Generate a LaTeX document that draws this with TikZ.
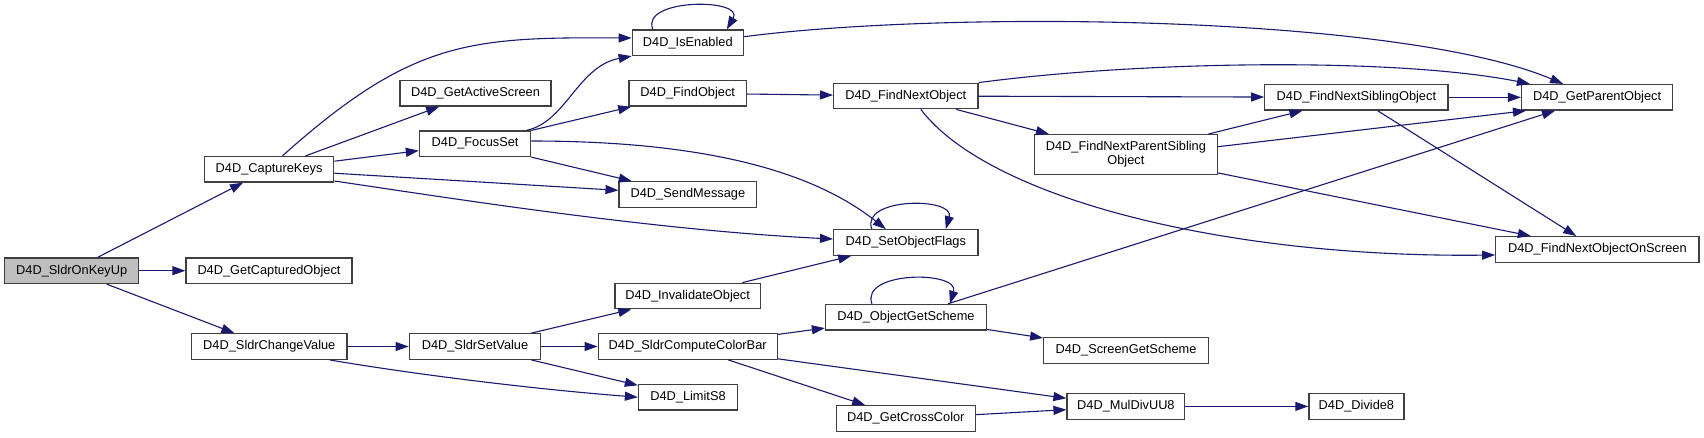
\documentclass[tikz,border=0pt]{standalone}
\usepackage{fontspec}
\setmainfont{Liberation Sans}
\usetikzlibrary{arrows.meta, calc}
\definecolor{callBlue}{HTML}{191970}
\definecolor{boxEdge}{HTML}{404040}
\definecolor{rootGray}{HTML}{BFBFBF}
\tikzset{
  funcbox/.style={draw=boxEdge, fill=white, line width=1.3pt, inner sep=0pt, minimum height=25.5pt, align=center, font=\fontsize{12.8}{14}\selectfont},
  rootbox/.style={funcbox, fill=rootGray},
  callarr/.style={-{Triangle[length=13pt, width=9pt]}, callBlue, line width=1.1pt},
}

\begin{document}
\begin{tikzpicture}[x=1pt, y=-1pt]
  \useasboundingbox (0,0) rectangle (1704,437);
  \fill[white] (0,0) rectangle (1704,437);
  % column 1
  \node[rootbox, minimum width=134pt] (onkeyup) at (71.7,270.7) {D4D\_SldrOnKeyUp};
  % column 2
  \node[funcbox, minimum width=129.2pt] (capkeys) at (269.1,169.3) {D4D\_CaptureKeys};
  \node[funcbox, minimum width=166pt] (captured) at (269,270.7) {D4D\_GetCapturedObject};
  \node[funcbox, minimum width=155.3pt] (chgvalue) at (269.3,346.5) {D4D\_SldrChangeValue};
  % column 3
  \node[funcbox, minimum width=151pt] (activescr) at (475.5,93.3) {D4D\_GetActiveScreen};
  \node[funcbox, minimum width=111.3pt] (focusset) at (475.1,143.7) {D4D\_FocusSet};
  \node[funcbox, minimum width=131.5pt] (setvalue) at (475,346.5) {D4D\_SldrSetValue};
  % column 4
  \node[funcbox, minimum width=111pt] (isenabled) at (687.8,42.7) {D4D\_IsEnabled};
  \node[funcbox, minimum width=117.5pt] (findobj) at (687.7,93.3) {D4D\_FindObject};
  \node[funcbox, minimum width=137.6pt] (sendmsg) at (687.9,194.5) {D4D\_SendMessage};
  \node[funcbox, minimum width=145.5pt] (invalidate) at (687.7,296) {D4D\_InvalidateObject};
  \node[funcbox, minimum width=179pt] (colorbar) at (687.7,346.5) {D4D\_SldrComputeColorBar};
  \node[funcbox, minimum width=99pt] (limits8) at (688,397.2) {D4D\_LimitS8};
  % column 5
  \node[funcbox, minimum width=144.3pt] (findnext) at (905.8,96) {D4D\_FindNextObject};
  \node[funcbox, minimum width=144.3pt] (setflags) at (905.8,242.5) {D4D\_SetObjectFlags};
  \node[funcbox, minimum width=160.8pt] (objscheme) at (905.9,317.2) {D4D\_ObjectGetScheme};
  \node[funcbox, minimum width=139pt] (crosscolor) at (905.8,418.5) {D4D\_GetCrossColor};
  % column 6
  \node[funcbox, minimum width=182.6pt, minimum height=39.6pt] (parentsib) at (1125.9,154.5) {D4D\_FindNextParentSibling\\Object};
  \node[funcbox, minimum width=164.5pt] (scrscheme) at (1126,350.5) {D4D\_ScreenGetScheme};
  \node[funcbox, minimum width=117.7pt] (muldiv) at (1125.9,406.4) {D4D\_MulDivUU8};
  % column 7
  \node[funcbox, minimum width=183.3pt] (nextsib) at (1356.4,97.3) {D4D\_FindNextSiblingObject};
  \node[funcbox, minimum width=95pt] (divide) at (1356.4,406.4) {D4D\_Divide8};
  % column 8
  \node[funcbox, minimum width=151pt] (parent) at (1597.1,97.3) {D4D\_GetParentObject};
  \node[funcbox, minimum width=203.3pt] (onscreen) at (1597.4,249.4) {D4D\_FindNextObjectOnScreen};

  % SldrOnKeyUp
  \draw[callarr] (onkeyup) -- (capkeys);
  \draw[callarr] (onkeyup) -- (captured);
  \draw[callarr] (onkeyup) -- (chgvalue);
  % CaptureKeys
  \draw[callarr] ([xshift=13.3pt]capkeys.north) .. controls (412,40) and (470,37) .. ([yshift=4.7pt]isenabled.west);
  \draw[callarr] (capkeys) -- (activescr);
  \draw[callarr] (capkeys) -- (focusset);
  \draw[callarr] (capkeys) -- (sendmsg);
  \draw[callarr] ([yshift=1.7pt]capkeys.south east) .. controls (450,198) and (650,230) .. ([yshift=3.5pt]setflags.west);
  % FocusSet
  \draw[callarr] ([xshift=-4.8pt]focusset.north east) .. controls (566,122) and (578,66) .. (isenabled.south west);
  \draw[callarr] (focusset) -- (findobj);
  \draw[callarr] (focusset) -- (sendmsg);
  \draw[callarr] ([yshift=2.7pt]focusset.east) .. controls (740,141) and (830,185) .. ([xshift=-20pt]setflags.north);
  % IsEnabled
  \draw[callarr] ([xshift=-35pt]isenabled.north) .. controls (640,-2) and (745,-2) .. ([xshift=39pt]isenabled.north);
  \draw[callarr] ([yshift=6pt]isenabled.east) .. controls (950,10) and (1400,15) .. ([xshift=-34pt]parent.north);
  % FindObject
  \draw[callarr] (findobj) -- (findnext);
  % FindNextObject
  \draw[callarr] (findnext.north east) .. controls (1150,60) and (1400,58) .. ([xshift=9pt]parent.north west);
  \draw[callarr] (findnext) -- (nextsib);
  \draw[callarr] (findnext) -- (parentsib);
  \draw[callarr] ([xshift=15pt]findnext.south) .. controls (990,200) and (1230,258) .. ([yshift=-5.6pt]onscreen.west);
  % FindNextParentSibling
  \draw[callarr] (parentsib) -- (nextsib);
  \draw[callarr] ([yshift=7.8pt]parentsib.east) -- ([xshift=5pt]parent.south west);
  \draw[callarr] (parentsib) -- (onscreen);
  % FindNextSiblingObject
  \draw[callarr] (nextsib) -- (parent);
  \draw[callarr] (nextsib) -- (onscreen);
  % SetObjectFlags
  \draw[callarr] ([xshift=-34pt]setflags.north) .. controls (860,197) and (955,197) .. ([xshift=40pt]setflags.north);
  % SldrChangeValue
  \draw[callarr] (chgvalue) -- (setvalue);
  \draw[callarr] ([xshift=-18pt]chgvalue.south east) .. controls (400,372) and (520,388) .. (limits8.west);
  % SldrSetValue
  \draw[callarr] (setvalue) -- (invalidate);
  \draw[callarr] (setvalue) -- (colorbar);
  \draw[callarr] (setvalue) -- (limits8);
  % InvalidateObject
  \draw[callarr] (invalidate) -- (setflags);
  % SldrComputeColorBar
  \draw[callarr] (colorbar) -- (objscheme);
  \draw[callarr] (colorbar) -- (muldiv);
  \draw[callarr] (colorbar) -- (crosscolor);
  % ObjectGetScheme
  \draw[callarr] ([xshift=-34pt]objscheme.north) .. controls (860,270.6) and (960,270.6) .. ([xshift=44pt]objscheme.north);
  \draw[callarr] (objscheme) -- (parent);
  \draw[callarr] (objscheme) -- (scrscheme);
  % GetCrossColor, MulDivUU8
  \draw[callarr] (crosscolor) -- (muldiv);
  \draw[callarr] (muldiv) -- (divide);
\end{tikzpicture}
\end{document}
